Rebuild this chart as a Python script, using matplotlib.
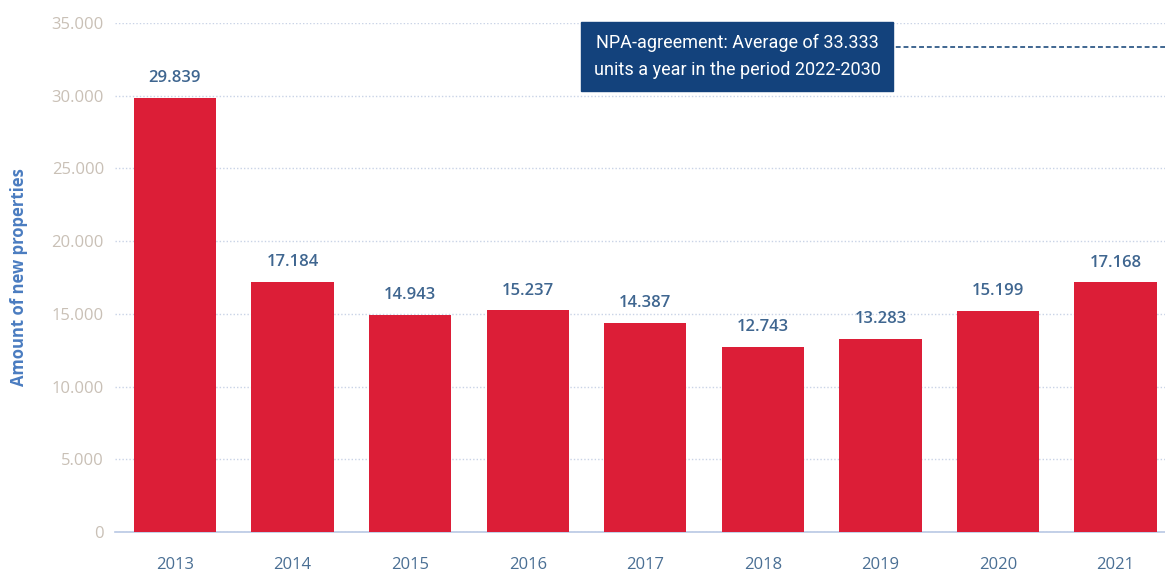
import matplotlib.pyplot as plt
from matplotlib.ticker import FuncFormatter

years = ["2013", "2014", "2015", "2016", "2017", "2018", "2019", "2020", "2021"]
new_properties = [29839, 17184, 14943, 15237, 14387, 12743, 13283, 15199, 17168]
npa_target = 33333
npa_text = "NPA-agreement: Average of 33.333\nunits a year in the period 2022-2030"


def dotted(v):
    return f"{v:,.0f}".replace(",", ".")


def main():
    plt.rcParams["font.family"] = ["Open Sans", "DejaVu Sans"]
    fig = plt.figure(figsize=(11.65, 5.72), dpi=100)
    ax = fig.add_axes([115 / 1165, 1 - 532 / 572, 1050 / 1165, 509 / 572])

    x = range(len(years))
    bars = ax.bar(x, new_properties, width=0.7, color="#dc1e37", zorder=3)

    for b, v in zip(bars, new_properties):
        ax.text(b.get_x() + b.get_width() / 2, v + 800, dotted(v),
                ha="center", va="bottom", fontsize=12, fontweight="semibold",
                color="#3f6690")

    ax.set_xlim(-0.51, 8.42)
    ax.set_ylim(0, 35000)
    ax.set_yticks(range(0, 35001, 5000))
    ax.yaxis.set_major_formatter(FuncFormatter(lambda v, _: dotted(v)))
    ax.set_xticks(list(x))
    ax.set_xticklabels(years)

    ax.grid(axis="y", linestyle=(0, (1, 1.5)), color="#c9d3e6", linewidth=1, zorder=0)
    for s in ["top", "right", "left"]:
        ax.spines[s].set_visible(False)
    ax.spines["bottom"].set_color("#b9c8e4")
    ax.spines["bottom"].set_linewidth(1.2)
    ax.tick_params(axis="y", length=0, pad=8, labelsize=12, labelcolor="#c9c0b6")
    ax.tick_params(axis="x", length=0, pad=18, labelsize=12, labelcolor="#4a6f94")

    ax.set_ylabel("Amount of new properties", fontsize=12, fontweight="bold",
                  color="#4a7cc0")
    ax.yaxis.set_label_coords(-0.083, 0.5)

    # target line to the right of the note box
    ax.plot([6.06, 8.42], [npa_target, npa_target], linestyle=(0, (2.5, 1.5)),
            color="#3f6690", linewidth=1.4, zorder=4)
    ax.text(4.78, 32700, npa_text, ha="center", va="center", fontsize=13,
            family=["Roboto", "DejaVu Sans"], color="white", linespacing=1.6, zorder=5,
            bbox=dict(boxstyle="square,pad=0.7", facecolor="#13427c", edgecolor="#13427c"))

    fig.savefig("out.png", dpi=100)


if __name__ == "__main__":
    main()
